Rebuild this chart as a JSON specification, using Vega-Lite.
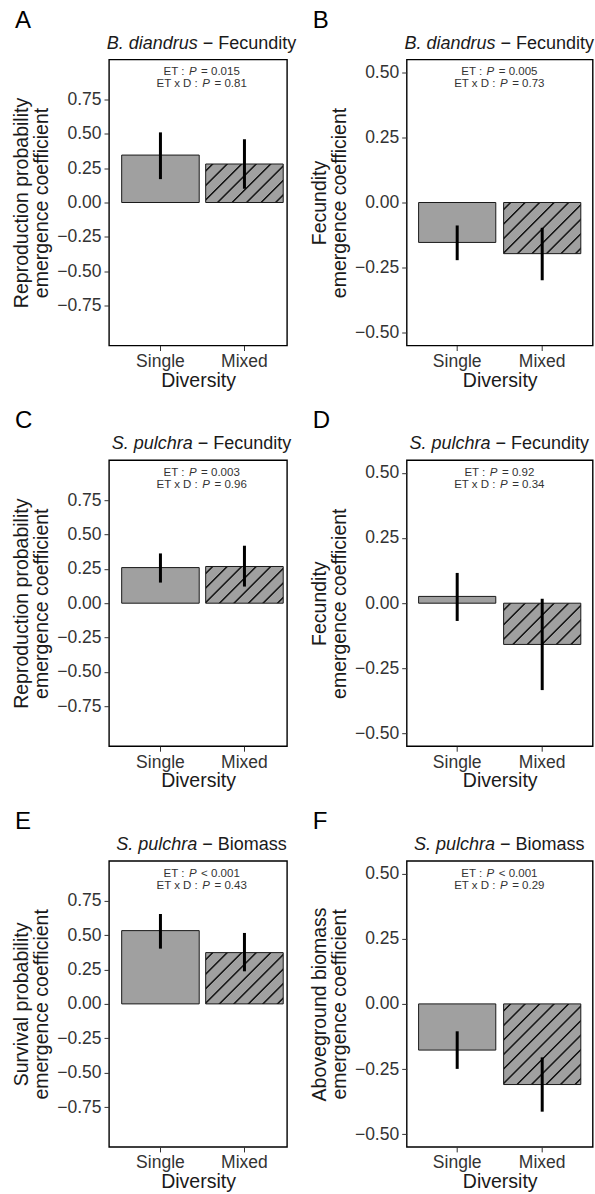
{
  "$schema": "https://vega.github.io/schema/vega-lite/v6.json",
  "background": "white",
  "padding": {"left": 11, "top": 7.5, "right": 0, "bottom": 0},
  "columns": 2,
  "bounds": "flush",
  "align": "each",
  "spacing": {"row": 114.7, "column": 119.7},
  "config": {
    "font": "Liberation Sans",
    "view": {"stroke": "#000000", "strokeWidth": 1.4},
    "axis": {"grid": false, "domain": false, "ticks": true, "tickSize": 5, "tickColor": "#333333", "tickWidth": 1, "labelFontSize": 17.5, "labelColor": "#333333", "labelPadding": 3, "titleFontSize": 19.5, "titleFontWeight": "normal", "titleColor": "#1a1a1a", "titleLineHeight": 20},
    "axisX": {"labelAngle": 0, "titlePadding": 1, "labelPadding": 2},
    "axisY": {"titlePadding": 5},
    "text": {"baseline": "alphabetic"},
    "title": {"fontSize": 24, "fontWeight": "normal", "anchor": "start", "frame": "group", "dx": -94, "offset": 2, "color": "#000000"}
  },
  "concat": [
    {
      "width": 178, "height": 286,
      "title": {"text": "A"},
      "data": {"values": [
        {"div": "Single", "est": 0.345, "lo": 0.17, "hi": 0.51},
        {"div": "Mixed", "est": 0.28, "lo": 0.10, "hi": 0.46}
      ]},
      "layer": [
        {"transform": [{"filter": "datum.div === 'Single'"}],
         "mark": {"type": "bar", "fill": "#a0a0a0", "stroke": "#1a1a1a", "strokeWidth": 1},
         "encoding": {
           "x": {"field": "div", "type": "nominal", "scale": {"domain": ["Single", "Mixed"], "paddingInner": 0.077, "paddingOuter": 0.098, "align": 0.77}, "axis": {"title": "Diversity"}},
           "y": {"field": "est", "type": "quantitative", "scale": {"domain": [-1.04, 1.04], "nice": false, "zero": false}, "axis": {"title": ["Reproduction probability", "emergence coefficient"], "values": [-0.75, -0.5, -0.25, 0, 0.25, 0.5, 0.75], "format": ".2f"}}
         }},
        {"transform": [{"filter": "datum.div === 'Mixed'"}],
         "mark": {"type": "bar", "stroke": "#1a1a1a", "strokeWidth": 1,
           "fill": {"gradient": "linear", "x1": 0, "y1": 0, "x2": 1.2, "y2": 0.598, "stops": [
             {"offset": 0.0465, "color": "#a0a0a0"}, {"offset": 0.0551, "color": "#1a1a1a"}, {"offset": 0.0655, "color": "#1a1a1a"}, {"offset": 0.0741, "color": "#a0a0a0"},
             {"offset": 0.1714, "color": "#a0a0a0"}, {"offset": 0.1800, "color": "#1a1a1a"}, {"offset": 0.1904, "color": "#1a1a1a"}, {"offset": 0.1990, "color": "#a0a0a0"},
             {"offset": 0.2963, "color": "#a0a0a0"}, {"offset": 0.3049, "color": "#1a1a1a"}, {"offset": 0.3152, "color": "#1a1a1a"}, {"offset": 0.3239, "color": "#a0a0a0"},
             {"offset": 0.4212, "color": "#a0a0a0"}, {"offset": 0.4298, "color": "#1a1a1a"}, {"offset": 0.4401, "color": "#1a1a1a"}, {"offset": 0.4487, "color": "#a0a0a0"},
             {"offset": 0.5461, "color": "#a0a0a0"}, {"offset": 0.5547, "color": "#1a1a1a"}, {"offset": 0.5650, "color": "#1a1a1a"}, {"offset": 0.5736, "color": "#a0a0a0"},
             {"offset": 0.6710, "color": "#a0a0a0"}, {"offset": 0.6796, "color": "#1a1a1a"}, {"offset": 0.6899, "color": "#1a1a1a"}, {"offset": 0.6985, "color": "#a0a0a0"},
             {"offset": 0.7959, "color": "#a0a0a0"}, {"offset": 0.8045, "color": "#1a1a1a"}, {"offset": 0.8148, "color": "#1a1a1a"}, {"offset": 0.8234, "color": "#a0a0a0"},
             {"offset": 0.9208, "color": "#a0a0a0"}, {"offset": 0.9294, "color": "#1a1a1a"}, {"offset": 0.9397, "color": "#1a1a1a"}, {"offset": 0.9483, "color": "#a0a0a0"}
           ]}},
         "encoding": {"x": {"field": "div", "type": "nominal"}, "y": {"field": "est", "type": "quantitative"}}},
        {"mark": {"type": "rule", "strokeWidth": 3, "color": "#000000"},
         "encoding": {"x": {"field": "div", "type": "nominal"}, "y": {"field": "lo", "type": "quantitative"}, "y2": {"field": "hi"}}},
        {"data": {"values": [{"species": "B. diandrus", "response": "− Fecundity"}]},
         "encoding": {"x": {"datum": "Single", "bandPosition": 1.03}, "y": {"datum": 1.12}},
         "layer": [
           {"mark": {"type": "text", "baseline": "alphabetic", "fontStyle": "italic", "fontSize": 18, "align": "right", "dx": -3.75, "color": "#1a1a1a"}, "encoding": {"text": {"field": "species"}}},
           {"mark": {"type": "text", "baseline": "alphabetic", "fontSize": 18, "align": "left", "dx": 1.25, "color": "#1a1a1a"}, "encoding": {"text": {"field": "response"}}}
         ]},
        {"data": {"values": [{"et": "= 0.015", "etxd": "= 0.81"}]},
         "encoding": {"x": {"datum": "Single", "bandPosition": 1.03}},
         "layer": [
           {"mark": {"type": "text", "baseline": "alphabetic", "fontSize": 11.5, "align": "right", "dx": -17.15, "color": "#333333"}, "encoding": {"y": {"datum": 0.924}, "text": {"value": "ET :"}}},
           {"mark": {"type": "text", "baseline": "alphabetic", "fontSize": 11.5, "align": "left", "dx": -12.65, "fontStyle": "italic", "color": "#333333"}, "encoding": {"y": {"datum": 0.924}, "text": {"value": "P"}}},
           {"mark": {"type": "text", "baseline": "alphabetic", "fontSize": 11.5, "align": "left", "dx": -0.45, "color": "#333333"}, "encoding": {"y": {"datum": 0.924}, "text": {"field": "et"}}},
           {"mark": {"type": "text", "baseline": "alphabetic", "fontSize": 11.5, "align": "right", "dx": -3.75, "color": "#333333"}, "encoding": {"y": {"datum": 0.8364}, "text": {"value": "ET x D :"}}},
           {"mark": {"type": "text", "baseline": "alphabetic", "fontSize": 11.5, "align": "left", "dx": 0.75, "fontStyle": "italic", "color": "#333333"}, "encoding": {"y": {"datum": 0.8364}, "text": {"value": "P"}}},
           {"mark": {"type": "text", "baseline": "alphabetic", "fontSize": 11.5, "align": "left", "dx": 12.95, "color": "#333333"}, "encoding": {"y": {"datum": 0.8364}, "text": {"field": "etxd"}}}
         ]}
      ]
    },
    {
      "width": 186, "height": 286,
      "title": {"text": "B"},
      "data": {"values": [
        {"div": "Single", "est": -0.153, "lo": -0.221, "hi": -0.088},
        {"div": "Mixed", "est": -0.196, "lo": -0.298, "hi": -0.097}
      ]},
      "layer": [
        {"transform": [{"filter": "datum.div === 'Single'"}],
         "mark": {"type": "bar", "fill": "#a0a0a0", "stroke": "#1a1a1a", "strokeWidth": 1},
         "encoding": {
           "x": {"field": "div", "type": "nominal", "scale": {"domain": ["Single", "Mixed"], "paddingInner": 0.092, "paddingOuter": 0.14}, "axis": {"title": "Diversity"}},
           "y": {"field": "est", "type": "quantitative", "scale": {"domain": [-0.548, 0.548], "nice": false, "zero": false}, "axis": {"title": ["Fecundity", "emergence coefficient"], "values": [-0.5, -0.25, 0, 0.25, 0.5], "format": ".2f"}}
         }},
        {"transform": [{"filter": "datum.div === 'Mixed'"}],
         "mark": {"type": "bar", "stroke": "#1a1a1a", "strokeWidth": 1,
           "fill": {"gradient": "linear", "x1": 0, "y1": 0, "x2": 1.156, "y2": 0.765, "stops": [
             {"offset": 0.0421, "color": "#a0a0a0"}, {"offset": 0.0499, "color": "#1a1a1a"}, {"offset": 0.0592, "color": "#1a1a1a"}, {"offset": 0.0670, "color": "#a0a0a0"},
             {"offset": 0.1551, "color": "#a0a0a0"}, {"offset": 0.1629, "color": "#1a1a1a"}, {"offset": 0.1723, "color": "#1a1a1a"}, {"offset": 0.1800, "color": "#a0a0a0"},
             {"offset": 0.2681, "color": "#a0a0a0"}, {"offset": 0.2759, "color": "#1a1a1a"}, {"offset": 0.2853, "color": "#1a1a1a"}, {"offset": 0.2931, "color": "#a0a0a0"},
             {"offset": 0.3811, "color": "#a0a0a0"}, {"offset": 0.3889, "color": "#1a1a1a"}, {"offset": 0.3983, "color": "#1a1a1a"}, {"offset": 0.4061, "color": "#a0a0a0"},
             {"offset": 0.4942, "color": "#a0a0a0"}, {"offset": 0.5019, "color": "#1a1a1a"}, {"offset": 0.5113, "color": "#1a1a1a"}, {"offset": 0.5191, "color": "#a0a0a0"},
             {"offset": 0.6072, "color": "#a0a0a0"}, {"offset": 0.6150, "color": "#1a1a1a"}, {"offset": 0.6243, "color": "#1a1a1a"}, {"offset": 0.6321, "color": "#a0a0a0"},
             {"offset": 0.7202, "color": "#a0a0a0"}, {"offset": 0.7280, "color": "#1a1a1a"}, {"offset": 0.7373, "color": "#1a1a1a"}, {"offset": 0.7451, "color": "#a0a0a0"},
             {"offset": 0.8332, "color": "#a0a0a0"}, {"offset": 0.8410, "color": "#1a1a1a"}, {"offset": 0.8503, "color": "#1a1a1a"}, {"offset": 0.8581, "color": "#a0a0a0"},
             {"offset": 0.9462, "color": "#a0a0a0"}, {"offset": 0.9540, "color": "#1a1a1a"}, {"offset": 0.9634, "color": "#1a1a1a"}, {"offset": 0.9712, "color": "#a0a0a0"}
           ]}},
         "encoding": {"x": {"field": "div", "type": "nominal"}, "y": {"field": "est", "type": "quantitative"}}},
        {"mark": {"type": "rule", "strokeWidth": 3, "color": "#000000"},
         "encoding": {"x": {"field": "div", "type": "nominal"}, "y": {"field": "lo", "type": "quantitative"}, "y2": {"field": "hi"}}},
        {"data": {"values": [{"species": "B. diandrus", "response": "− Fecundity"}]},
         "encoding": {"x": {"datum": "Single", "bandPosition": 1.045}, "y": {"datum": 0.59}},
         "layer": [
           {"mark": {"type": "text", "baseline": "alphabetic", "fontStyle": "italic", "fontSize": 18, "align": "right", "dx": -3.75, "color": "#1a1a1a"}, "encoding": {"text": {"field": "species"}}},
           {"mark": {"type": "text", "baseline": "alphabetic", "fontSize": 18, "align": "left", "dx": 1.25, "color": "#1a1a1a"}, "encoding": {"text": {"field": "response"}}}
         ]},
        {"data": {"values": [{"et": "= 0.005", "etxd": "= 0.73"}]},
         "encoding": {"x": {"datum": "Single", "bandPosition": 1.045}},
         "layer": [
           {"mark": {"type": "text", "baseline": "alphabetic", "fontSize": 11.5, "align": "right", "dx": -17.15, "color": "#333333"}, "encoding": {"y": {"datum": 0.487}, "text": {"value": "ET :"}}},
           {"mark": {"type": "text", "baseline": "alphabetic", "fontSize": 11.5, "align": "left", "dx": -12.65, "fontStyle": "italic", "color": "#333333"}, "encoding": {"y": {"datum": 0.487}, "text": {"value": "P"}}},
           {"mark": {"type": "text", "baseline": "alphabetic", "fontSize": 11.5, "align": "left", "dx": -0.45, "color": "#333333"}, "encoding": {"y": {"datum": 0.487}, "text": {"field": "et"}}},
           {"mark": {"type": "text", "baseline": "alphabetic", "fontSize": 11.5, "align": "right", "dx": -3.75, "color": "#333333"}, "encoding": {"y": {"datum": 0.4407}, "text": {"value": "ET x D :"}}},
           {"mark": {"type": "text", "baseline": "alphabetic", "fontSize": 11.5, "align": "left", "dx": 0.75, "fontStyle": "italic", "color": "#333333"}, "encoding": {"y": {"datum": 0.4407}, "text": {"value": "P"}}},
           {"mark": {"type": "text", "baseline": "alphabetic", "fontSize": 11.5, "align": "left", "dx": 12.95, "color": "#333333"}, "encoding": {"y": {"datum": 0.4407}, "text": {"field": "etxd"}}}
         ]}
      ]
    },
    {
      "width": 178, "height": 286,
      "title": {"text": "C"},
      "data": {"values": [
        {"div": "Single", "est": 0.259, "lo": 0.15, "hi": 0.362},
        {"div": "Mixed", "est": 0.267, "lo": 0.121, "hi": 0.418}
      ]},
      "layer": [
        {"transform": [{"filter": "datum.div === 'Single'"}],
         "mark": {"type": "bar", "fill": "#a0a0a0", "stroke": "#1a1a1a", "strokeWidth": 1},
         "encoding": {
           "x": {"field": "div", "type": "nominal", "scale": {"domain": ["Single", "Mixed"], "paddingInner": 0.077, "paddingOuter": 0.098, "align": 0.77}, "axis": {"title": "Diversity"}},
           "y": {"field": "est", "type": "quantitative", "scale": {"domain": [-1.04, 1.04], "nice": false, "zero": false}, "axis": {"title": ["Reproduction probability", "emergence coefficient"], "values": [-0.75, -0.5, -0.25, 0, 0.25, 0.5, 0.75], "format": ".2f"}}
         }},
        {"transform": [{"filter": "datum.div === 'Mixed'"}],
         "mark": {"type": "bar", "stroke": "#1a1a1a", "strokeWidth": 1,
           "fill": {"gradient": "linear", "x1": 0, "y1": 0, "x2": 1.204, "y2": 0.57, "stops": [
             {"offset": 0.0473, "color": "#a0a0a0"}, {"offset": 0.0560, "color": "#1a1a1a"}, {"offset": 0.0666, "color": "#1a1a1a"}, {"offset": 0.0753, "color": "#a0a0a0"},
             {"offset": 0.1743, "color": "#a0a0a0"}, {"offset": 0.1830, "color": "#1a1a1a"}, {"offset": 0.1935, "color": "#1a1a1a"}, {"offset": 0.2023, "color": "#a0a0a0"},
             {"offset": 0.3012, "color": "#a0a0a0"}, {"offset": 0.3100, "color": "#1a1a1a"}, {"offset": 0.3205, "color": "#1a1a1a"}, {"offset": 0.3293, "color": "#a0a0a0"},
             {"offset": 0.4282, "color": "#a0a0a0"}, {"offset": 0.4370, "color": "#1a1a1a"}, {"offset": 0.4475, "color": "#1a1a1a"}, {"offset": 0.4562, "color": "#a0a0a0"},
             {"offset": 0.5552, "color": "#a0a0a0"}, {"offset": 0.5639, "color": "#1a1a1a"}, {"offset": 0.5744, "color": "#1a1a1a"}, {"offset": 0.5832, "color": "#a0a0a0"},
             {"offset": 0.6821, "color": "#a0a0a0"}, {"offset": 0.6909, "color": "#1a1a1a"}, {"offset": 0.7014, "color": "#1a1a1a"}, {"offset": 0.7102, "color": "#a0a0a0"},
             {"offset": 0.8091, "color": "#a0a0a0"}, {"offset": 0.8179, "color": "#1a1a1a"}, {"offset": 0.8284, "color": "#1a1a1a"}, {"offset": 0.8371, "color": "#a0a0a0"},
             {"offset": 0.9361, "color": "#a0a0a0"}, {"offset": 0.9448, "color": "#1a1a1a"}, {"offset": 0.9554, "color": "#1a1a1a"}, {"offset": 0.9641, "color": "#a0a0a0"}
           ]}},
         "encoding": {"x": {"field": "div", "type": "nominal"}, "y": {"field": "est", "type": "quantitative"}}},
        {"mark": {"type": "rule", "strokeWidth": 3, "color": "#000000"},
         "encoding": {"x": {"field": "div", "type": "nominal"}, "y": {"field": "lo", "type": "quantitative"}, "y2": {"field": "hi"}}},
        {"data": {"values": [{"species": "S. pulchra", "response": "− Fecundity"}]},
         "encoding": {"x": {"datum": "Single", "bandPosition": 1.03}, "y": {"datum": 1.12}},
         "layer": [
           {"mark": {"type": "text", "baseline": "alphabetic", "fontStyle": "italic", "fontSize": 18, "align": "right", "dx": -8.75, "color": "#1a1a1a"}, "encoding": {"text": {"field": "species"}}},
           {"mark": {"type": "text", "baseline": "alphabetic", "fontSize": 18, "align": "left", "dx": -3.75, "color": "#1a1a1a"}, "encoding": {"text": {"field": "response"}}}
         ]},
        {"data": {"values": [{"et": "= 0.003", "etxd": "= 0.96"}]},
         "encoding": {"x": {"datum": "Single", "bandPosition": 1.03}},
         "layer": [
           {"mark": {"type": "text", "baseline": "alphabetic", "fontSize": 11.5, "align": "right", "dx": -17.15, "color": "#333333"}, "encoding": {"y": {"datum": 0.924}, "text": {"value": "ET :"}}},
           {"mark": {"type": "text", "baseline": "alphabetic", "fontSize": 11.5, "align": "left", "dx": -12.65, "fontStyle": "italic", "color": "#333333"}, "encoding": {"y": {"datum": 0.924}, "text": {"value": "P"}}},
           {"mark": {"type": "text", "baseline": "alphabetic", "fontSize": 11.5, "align": "left", "dx": -0.45, "color": "#333333"}, "encoding": {"y": {"datum": 0.924}, "text": {"field": "et"}}},
           {"mark": {"type": "text", "baseline": "alphabetic", "fontSize": 11.5, "align": "right", "dx": -3.75, "color": "#333333"}, "encoding": {"y": {"datum": 0.8364}, "text": {"value": "ET x D :"}}},
           {"mark": {"type": "text", "baseline": "alphabetic", "fontSize": 11.5, "align": "left", "dx": 0.75, "fontStyle": "italic", "color": "#333333"}, "encoding": {"y": {"datum": 0.8364}, "text": {"value": "P"}}},
           {"mark": {"type": "text", "baseline": "alphabetic", "fontSize": 11.5, "align": "left", "dx": 12.95, "color": "#333333"}, "encoding": {"y": {"datum": 0.8364}, "text": {"field": "etxd"}}}
         ]}
      ]
    },
    {
      "width": 186, "height": 286,
      "title": {"text": "D"},
      "data": {"values": [
        {"div": "Single", "est": 0.026, "lo": -0.068, "hi": 0.116},
        {"div": "Mixed", "est": -0.158, "lo": -0.333, "hi": 0.017}
      ]},
      "layer": [
        {"transform": [{"filter": "datum.div === 'Single'"}],
         "mark": {"type": "bar", "fill": "#a0a0a0", "stroke": "#1a1a1a", "strokeWidth": 1},
         "encoding": {
           "x": {"field": "div", "type": "nominal", "scale": {"domain": ["Single", "Mixed"], "paddingInner": 0.092, "paddingOuter": 0.14}, "axis": {"title": "Diversity"}},
           "y": {"field": "est", "type": "quantitative", "scale": {"domain": [-0.548, 0.548], "nice": false, "zero": false}, "axis": {"title": ["Fecundity", "emergence coefficient"], "values": [-0.5, -0.25, 0, 0.25, 0.5], "format": ".2f"}}
         }},
        {"transform": [{"filter": "datum.div === 'Mixed'"}],
         "mark": {"type": "bar", "stroke": "#1a1a1a", "strokeWidth": 1,
           "fill": {"gradient": "linear", "x1": 0, "y1": 0, "x2": 1.194, "y2": 0.637, "stops": [
             {"offset": 0.0456, "color": "#a0a0a0"}, {"offset": 0.0541, "color": "#1a1a1a"}, {"offset": 0.0642, "color": "#1a1a1a"}, {"offset": 0.0726, "color": "#a0a0a0"},
             {"offset": 0.1681, "color": "#a0a0a0"}, {"offset": 0.1765, "color": "#1a1a1a"}, {"offset": 0.1867, "color": "#1a1a1a"}, {"offset": 0.1951, "color": "#a0a0a0"},
             {"offset": 0.2905, "color": "#a0a0a0"}, {"offset": 0.2990, "color": "#1a1a1a"}, {"offset": 0.3091, "color": "#1a1a1a"}, {"offset": 0.3176, "color": "#a0a0a0"},
             {"offset": 0.4130, "color": "#a0a0a0"}, {"offset": 0.4215, "color": "#1a1a1a"}, {"offset": 0.4316, "color": "#1a1a1a"}, {"offset": 0.4400, "color": "#a0a0a0"},
             {"offset": 0.5355, "color": "#a0a0a0"}, {"offset": 0.5439, "color": "#1a1a1a"}, {"offset": 0.5541, "color": "#1a1a1a"}, {"offset": 0.5625, "color": "#a0a0a0"},
             {"offset": 0.6579, "color": "#a0a0a0"}, {"offset": 0.6664, "color": "#1a1a1a"}, {"offset": 0.6765, "color": "#1a1a1a"}, {"offset": 0.6850, "color": "#a0a0a0"},
             {"offset": 0.7804, "color": "#a0a0a0"}, {"offset": 0.7889, "color": "#1a1a1a"}, {"offset": 0.7990, "color": "#1a1a1a"}, {"offset": 0.8074, "color": "#a0a0a0"},
             {"offset": 0.9029, "color": "#a0a0a0"}, {"offset": 0.9113, "color": "#1a1a1a"}, {"offset": 0.9215, "color": "#1a1a1a"}, {"offset": 0.9299, "color": "#a0a0a0"}
           ]}},
         "encoding": {"x": {"field": "div", "type": "nominal"}, "y": {"field": "est", "type": "quantitative"}}},
        {"mark": {"type": "rule", "strokeWidth": 3, "color": "#000000"},
         "encoding": {"x": {"field": "div", "type": "nominal"}, "y": {"field": "lo", "type": "quantitative"}, "y2": {"field": "hi"}}},
        {"data": {"values": [{"species": "S. pulchra", "response": "− Fecundity"}]},
         "encoding": {"x": {"datum": "Single", "bandPosition": 1.045}, "y": {"datum": 0.59}},
         "layer": [
           {"mark": {"type": "text", "baseline": "alphabetic", "fontStyle": "italic", "fontSize": 18, "align": "right", "dx": -8.75, "color": "#1a1a1a"}, "encoding": {"text": {"field": "species"}}},
           {"mark": {"type": "text", "baseline": "alphabetic", "fontSize": 18, "align": "left", "dx": -3.75, "color": "#1a1a1a"}, "encoding": {"text": {"field": "response"}}}
         ]},
        {"data": {"values": [{"et": "= 0.92", "etxd": "= 0.34"}]},
         "encoding": {"x": {"datum": "Single", "bandPosition": 1.045}},
         "layer": [
           {"mark": {"type": "text", "baseline": "alphabetic", "fontSize": 11.5, "align": "right", "dx": -13.95, "color": "#333333"}, "encoding": {"y": {"datum": 0.487}, "text": {"value": "ET :"}}},
           {"mark": {"type": "text", "baseline": "alphabetic", "fontSize": 11.5, "align": "left", "dx": -9.45, "fontStyle": "italic", "color": "#333333"}, "encoding": {"y": {"datum": 0.487}, "text": {"value": "P"}}},
           {"mark": {"type": "text", "baseline": "alphabetic", "fontSize": 11.5, "align": "left", "dx": 2.75, "color": "#333333"}, "encoding": {"y": {"datum": 0.487}, "text": {"field": "et"}}},
           {"mark": {"type": "text", "baseline": "alphabetic", "fontSize": 11.5, "align": "right", "dx": -3.75, "color": "#333333"}, "encoding": {"y": {"datum": 0.4407}, "text": {"value": "ET x D :"}}},
           {"mark": {"type": "text", "baseline": "alphabetic", "fontSize": 11.5, "align": "left", "dx": 0.75, "fontStyle": "italic", "color": "#333333"}, "encoding": {"y": {"datum": 0.4407}, "text": {"value": "P"}}},
           {"mark": {"type": "text", "baseline": "alphabetic", "fontSize": 11.5, "align": "left", "dx": 12.95, "color": "#333333"}, "encoding": {"y": {"datum": 0.4407}, "text": {"field": "etxd"}}}
         ]}
      ]
    },
    {
      "width": 178, "height": 286,
      "title": {"text": "E"},
      "data": {"values": [
        {"div": "Single", "est": 0.533, "lo": 0.402, "hi": 0.654},
        {"div": "Mixed", "est": 0.373, "lo": 0.237, "hi": 0.516}
      ]},
      "layer": [
        {"transform": [{"filter": "datum.div === 'Single'"}],
         "mark": {"type": "bar", "fill": "#a0a0a0", "stroke": "#1a1a1a", "strokeWidth": 1},
         "encoding": {
           "x": {"field": "div", "type": "nominal", "scale": {"domain": ["Single", "Mixed"], "paddingInner": 0.077, "paddingOuter": 0.098, "align": 0.77}, "axis": {"title": "Diversity"}},
           "y": {"field": "est", "type": "quantitative", "scale": {"domain": [-1.04, 1.04], "nice": false, "zero": false}, "axis": {"title": ["Survival probability", "emergence coefficient"], "values": [-0.75, -0.5, -0.25, 0, 0.25, 0.5, 0.75], "format": ".2f"}}
         }},
        {"transform": [{"filter": "datum.div === 'Mixed'"}],
         "mark": {"type": "bar", "stroke": "#1a1a1a", "strokeWidth": 1,
           "fill": {"gradient": "linear", "x1": 0, "y1": 0, "x2": 1.156, "y2": 0.765, "stops": [
             {"offset": 0.0419, "color": "#a0a0a0"}, {"offset": 0.0497, "color": "#1a1a1a"}, {"offset": 0.0590, "color": "#1a1a1a"}, {"offset": 0.0668, "color": "#a0a0a0"},
             {"offset": 0.1545, "color": "#a0a0a0"}, {"offset": 0.1623, "color": "#1a1a1a"}, {"offset": 0.1716, "color": "#1a1a1a"}, {"offset": 0.1794, "color": "#a0a0a0"},
             {"offset": 0.2671, "color": "#a0a0a0"}, {"offset": 0.2748, "color": "#1a1a1a"}, {"offset": 0.2842, "color": "#1a1a1a"}, {"offset": 0.2919, "color": "#a0a0a0"},
             {"offset": 0.3797, "color": "#a0a0a0"}, {"offset": 0.3874, "color": "#1a1a1a"}, {"offset": 0.3967, "color": "#1a1a1a"}, {"offset": 0.4045, "color": "#a0a0a0"},
             {"offset": 0.4922, "color": "#a0a0a0"}, {"offset": 0.5000, "color": "#1a1a1a"}, {"offset": 0.5093, "color": "#1a1a1a"}, {"offset": 0.5171, "color": "#a0a0a0"},
             {"offset": 0.6048, "color": "#a0a0a0"}, {"offset": 0.6126, "color": "#1a1a1a"}, {"offset": 0.6219, "color": "#1a1a1a"}, {"offset": 0.6297, "color": "#a0a0a0"},
             {"offset": 0.7174, "color": "#a0a0a0"}, {"offset": 0.7252, "color": "#1a1a1a"}, {"offset": 0.7345, "color": "#1a1a1a"}, {"offset": 0.7422, "color": "#a0a0a0"},
             {"offset": 0.8300, "color": "#a0a0a0"}, {"offset": 0.8377, "color": "#1a1a1a"}, {"offset": 0.8471, "color": "#1a1a1a"}, {"offset": 0.8548, "color": "#a0a0a0"},
             {"offset": 0.9426, "color": "#a0a0a0"}, {"offset": 0.9503, "color": "#1a1a1a"}, {"offset": 0.9596, "color": "#1a1a1a"}, {"offset": 0.9674, "color": "#a0a0a0"}
           ]}},
         "encoding": {"x": {"field": "div", "type": "nominal"}, "y": {"field": "est", "type": "quantitative"}}},
        {"mark": {"type": "rule", "strokeWidth": 3, "color": "#000000"},
         "encoding": {"x": {"field": "div", "type": "nominal"}, "y": {"field": "lo", "type": "quantitative"}, "y2": {"field": "hi"}}},
        {"data": {"values": [{"species": "S. pulchra", "response": "− Biomass"}]},
         "encoding": {"x": {"datum": "Single", "bandPosition": 1.03}, "y": {"datum": 1.12}},
         "layer": [
           {"mark": {"type": "text", "baseline": "alphabetic", "fontStyle": "italic", "fontSize": 18, "align": "right", "dx": -4.25, "color": "#1a1a1a"}, "encoding": {"text": {"field": "species"}}},
           {"mark": {"type": "text", "baseline": "alphabetic", "fontSize": 18, "align": "left", "dx": 0.75, "color": "#1a1a1a"}, "encoding": {"text": {"field": "response"}}}
         ]},
        {"data": {"values": [{"et": "< 0.001", "etxd": "= 0.43"}]},
         "encoding": {"x": {"datum": "Single", "bandPosition": 1.03}},
         "layer": [
           {"mark": {"type": "text", "baseline": "alphabetic", "fontSize": 11.5, "align": "right", "dx": -17.15, "color": "#333333"}, "encoding": {"y": {"datum": 0.924}, "text": {"value": "ET :"}}},
           {"mark": {"type": "text", "baseline": "alphabetic", "fontSize": 11.5, "align": "left", "dx": -12.65, "fontStyle": "italic", "color": "#333333"}, "encoding": {"y": {"datum": 0.924}, "text": {"value": "P"}}},
           {"mark": {"type": "text", "baseline": "alphabetic", "fontSize": 11.5, "align": "left", "dx": -0.45, "color": "#333333"}, "encoding": {"y": {"datum": 0.924}, "text": {"field": "et"}}},
           {"mark": {"type": "text", "baseline": "alphabetic", "fontSize": 11.5, "align": "right", "dx": -3.75, "color": "#333333"}, "encoding": {"y": {"datum": 0.8364}, "text": {"value": "ET x D :"}}},
           {"mark": {"type": "text", "baseline": "alphabetic", "fontSize": 11.5, "align": "left", "dx": 0.75, "fontStyle": "italic", "color": "#333333"}, "encoding": {"y": {"datum": 0.8364}, "text": {"value": "P"}}},
           {"mark": {"type": "text", "baseline": "alphabetic", "fontSize": 11.5, "align": "left", "dx": 12.95, "color": "#333333"}, "encoding": {"y": {"datum": 0.8364}, "text": {"field": "etxd"}}}
         ]}
      ]
    },
    {
      "width": 186, "height": 286,
      "title": {"text": "F"},
      "data": {"values": [
        {"div": "Single", "est": -0.177, "lo": -0.249, "hi": -0.105},
        {"div": "Mixed", "est": -0.309, "lo": -0.413, "hi": -0.205}
      ]},
      "layer": [
        {"transform": [{"filter": "datum.div === 'Single'"}],
         "mark": {"type": "bar", "fill": "#a0a0a0", "stroke": "#1a1a1a", "strokeWidth": 1},
         "encoding": {
           "x": {"field": "div", "type": "nominal", "scale": {"domain": ["Single", "Mixed"], "paddingInner": 0.092, "paddingOuter": 0.14}, "axis": {"title": "Diversity"}},
           "y": {"field": "est", "type": "quantitative", "scale": {"domain": [-0.548, 0.548], "nice": false, "zero": false}, "axis": {"title": ["Aboveground biomass", "emergence coefficient"], "values": [-0.5, -0.25, 0, 0.25, 0.5], "format": ".2f"}}
         }},
        {"transform": [{"filter": "datum.div === 'Mixed'"}],
         "mark": {"type": "bar", "stroke": "#1a1a1a", "strokeWidth": 1,
           "fill": {"gradient": "linear", "x1": 0, "y1": 0, "x2": 0.978, "y2": 1.021, "stops": [
             {"offset": 0.0342, "color": "#a0a0a0"}, {"offset": 0.0406, "color": "#1a1a1a"}, {"offset": 0.0482, "color": "#1a1a1a"}, {"offset": 0.0545, "color": "#a0a0a0"},
             {"offset": 0.1261, "color": "#a0a0a0"}, {"offset": 0.1325, "color": "#1a1a1a"}, {"offset": 0.1401, "color": "#1a1a1a"}, {"offset": 0.1464, "color": "#a0a0a0"},
             {"offset": 0.2180, "color": "#a0a0a0"}, {"offset": 0.2243, "color": "#1a1a1a"}, {"offset": 0.2319, "color": "#1a1a1a"}, {"offset": 0.2383, "color": "#a0a0a0"},
             {"offset": 0.3099, "color": "#a0a0a0"}, {"offset": 0.3162, "color": "#1a1a1a"}, {"offset": 0.3238, "color": "#1a1a1a"}, {"offset": 0.3302, "color": "#a0a0a0"},
             {"offset": 0.4018, "color": "#a0a0a0"}, {"offset": 0.4081, "color": "#1a1a1a"}, {"offset": 0.4157, "color": "#1a1a1a"}, {"offset": 0.4221, "color": "#a0a0a0"},
             {"offset": 0.4937, "color": "#a0a0a0"}, {"offset": 0.5000, "color": "#1a1a1a"}, {"offset": 0.5076, "color": "#1a1a1a"}, {"offset": 0.5139, "color": "#a0a0a0"},
             {"offset": 0.5856, "color": "#a0a0a0"}, {"offset": 0.5919, "color": "#1a1a1a"}, {"offset": 0.5995, "color": "#1a1a1a"}, {"offset": 0.6058, "color": "#a0a0a0"},
             {"offset": 0.6774, "color": "#a0a0a0"}, {"offset": 0.6838, "color": "#1a1a1a"}, {"offset": 0.6914, "color": "#1a1a1a"}, {"offset": 0.6977, "color": "#a0a0a0"},
             {"offset": 0.7693, "color": "#a0a0a0"}, {"offset": 0.7757, "color": "#1a1a1a"}, {"offset": 0.7833, "color": "#1a1a1a"}, {"offset": 0.7896, "color": "#a0a0a0"},
             {"offset": 0.8612, "color": "#a0a0a0"}, {"offset": 0.8676, "color": "#1a1a1a"}, {"offset": 0.8752, "color": "#1a1a1a"}, {"offset": 0.8815, "color": "#a0a0a0"},
             {"offset": 0.9531, "color": "#a0a0a0"}, {"offset": 0.9594, "color": "#1a1a1a"}, {"offset": 0.9670, "color": "#1a1a1a"}, {"offset": 0.9734, "color": "#a0a0a0"}
           ]}},
         "encoding": {"x": {"field": "div", "type": "nominal"}, "y": {"field": "est", "type": "quantitative"}}},
        {"mark": {"type": "rule", "strokeWidth": 3, "color": "#000000"},
         "encoding": {"x": {"field": "div", "type": "nominal"}, "y": {"field": "lo", "type": "quantitative"}, "y2": {"field": "hi"}}},
        {"data": {"values": [{"species": "S. pulchra", "response": "− Biomass"}]},
         "encoding": {"x": {"datum": "Single", "bandPosition": 1.045}, "y": {"datum": 0.59}},
         "layer": [
           {"mark": {"type": "text", "baseline": "alphabetic", "fontStyle": "italic", "fontSize": 18, "align": "right", "dx": -4.25, "color": "#1a1a1a"}, "encoding": {"text": {"field": "species"}}},
           {"mark": {"type": "text", "baseline": "alphabetic", "fontSize": 18, "align": "left", "dx": 0.75, "color": "#1a1a1a"}, "encoding": {"text": {"field": "response"}}}
         ]},
        {"data": {"values": [{"et": "< 0.001", "etxd": "= 0.29"}]},
         "encoding": {"x": {"datum": "Single", "bandPosition": 1.045}},
         "layer": [
           {"mark": {"type": "text", "baseline": "alphabetic", "fontSize": 11.5, "align": "right", "dx": -17.15, "color": "#333333"}, "encoding": {"y": {"datum": 0.487}, "text": {"value": "ET :"}}},
           {"mark": {"type": "text", "baseline": "alphabetic", "fontSize": 11.5, "align": "left", "dx": -12.65, "fontStyle": "italic", "color": "#333333"}, "encoding": {"y": {"datum": 0.487}, "text": {"value": "P"}}},
           {"mark": {"type": "text", "baseline": "alphabetic", "fontSize": 11.5, "align": "left", "dx": -0.45, "color": "#333333"}, "encoding": {"y": {"datum": 0.487}, "text": {"field": "et"}}},
           {"mark": {"type": "text", "baseline": "alphabetic", "fontSize": 11.5, "align": "right", "dx": -3.75, "color": "#333333"}, "encoding": {"y": {"datum": 0.4407}, "text": {"value": "ET x D :"}}},
           {"mark": {"type": "text", "baseline": "alphabetic", "fontSize": 11.5, "align": "left", "dx": 0.75, "fontStyle": "italic", "color": "#333333"}, "encoding": {"y": {"datum": 0.4407}, "text": {"value": "P"}}},
           {"mark": {"type": "text", "baseline": "alphabetic", "fontSize": 11.5, "align": "left", "dx": 12.95, "color": "#333333"}, "encoding": {"y": {"datum": 0.4407}, "text": {"field": "etxd"}}}
         ]}
      ]
    }
  ]
}
